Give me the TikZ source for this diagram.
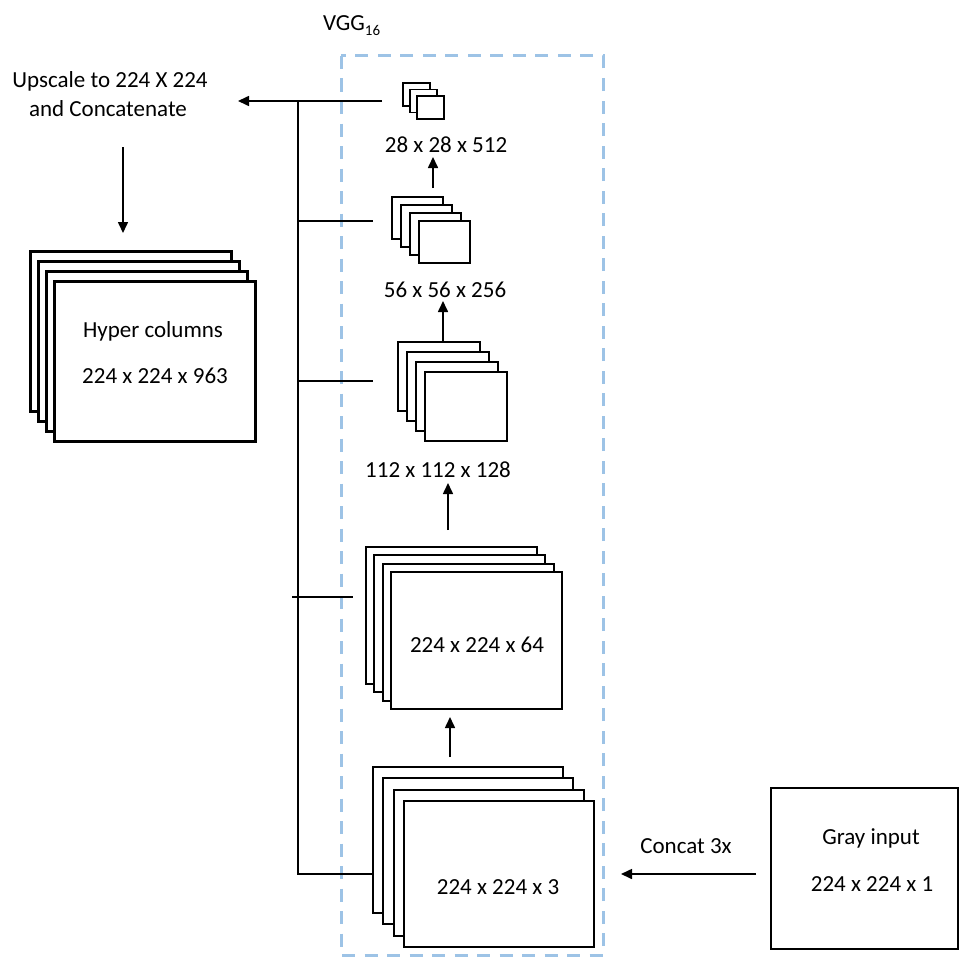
\documentclass[tikz,border=0pt]{standalone}
\usepackage{fontspec}
\setmainfont{Carlito}
\usetikzlibrary{arrows.meta,calc}
\definecolor{vggblue}{RGB}{157,195,230}
\tikzset{
  sheet/.style={draw=black, fill=white, rectangle, inner sep=0pt, outer sep=0pt, anchor=north west},
  lbl/.style={inner sep=0pt, anchor=base, font=\fontsize{23}{28}\selectfont},
  conn/.style={draw=black, line width=1.6pt},
  arr/.style={conn, -{Triangle[length=11pt,width=10pt]}},
  vggbox/.style={draw=vggblue, line width=3pt, dash pattern=on 13pt off 9.5pt}
}
% a stack of feature maps: name, x, y (back sheet, top left), width, height, dx, dy, count, line width
\newcommand{\featstack}[9]{%
  \foreach \k in {1,...,#8}{%
    \node[sheet, line width=#9, minimum width=#4pt, minimum height=#5pt]
      (#1-\k) at ({#2+(\k-1)*#6},{#3+(\k-1)*#7}) {};
  }%
}
\begin{document}
\begin{tikzpicture}[x=1pt,y=-1pt]
\useasboundingbox (0,0) rectangle (961,958);

% VGG16 frame
\draw[vggbox] (341,56) rectangle (603,955);
\node[inner sep=0pt, anchor=base west, font=\fontsize{23}{28}\selectfont] (vgg) at (323,31)
  {VGG\raisebox{-5pt}{\fontsize{15}{15}\selectfont 16}};

% feature map stacks
\featstack{s1}{403}{83}{27}{23}{7}{6.5}{3}{1.6pt}
\featstack{s2}{392}{197}{51}{42}{9}{8}{4}{1.6pt}
\featstack{s3}{398}{342}{82}{69}{9}{10}{4}{1.6pt}
\featstack{s4}{366}{547}{171}{137}{8.3}{8.3}{4}{2pt}
\featstack{s5}{373}{767}{190}{146}{10.3}{11.3}{4}{2pt}
\featstack{hc}{30}{251}{201}{160}{8.3}{10.3}{4}{3pt}

% gray input
\node[sheet, line width=2.6pt, minimum width=187pt, minimum height=161pt] (gray) at (771,788) {};

% labels
\node[lbl] (l512) at (446,152) {28 x 28 x 512};
\node[lbl] (l256) at (445,297) {56 x 56 x 256};
\node[lbl] (l128) at (438,477) {112 x 112 x 128};
\node[lbl] (l64)  at (477,652) {224 x 224 x 64};
\node[lbl] (l3)   at (498,894) {224 x 224 x 3};
\node[lbl] (gt)   at (871,844) {Gray input};
\node[lbl] (g1)   at (872,891) {224 x 224 x 1};
\node[lbl] (cat)  at (686,853) {Concat 3x};
\node[lbl] (hct)  at (153,337) {Hyper columns};
\node[lbl] (h963) at (155,383) {224 x 224 x 963};
\node[lbl] (up1)  at (110,88)  {Upscale to 224 X 224};
\node[lbl] (up2)  at (108,116) {and Concatenate};

% bus collecting the stages
\coordinate (btop) at (298,101);
\coordinate (bbot) at (298,874);
\coordinate (s1out) at (382,101);
\coordinate (uptip) at (238,101);
\draw[arr] (s1out) -- (uptip);
\draw[conn] (btop) -- (bbot) -- (s5-1.north west |- bbot);
\coordinate (t2) at (373,221);
\coordinate (t3) at (373,381);
\coordinate (t4a) at (292,597);
\coordinate (t4b) at (353,597);
\draw[conn] (btop |- t2) -- (t2);
\draw[conn] (btop |- t3) -- (t3);
\draw[conn] (t4a) -- (t4b);

% forward path
\coordinate (a1s) at (433,188); \coordinate (a1e) at (433,157);
\coordinate (a2s) at (443,342); \coordinate (a2e) at (443,301);
\coordinate (a3s) at (448,530); \coordinate (a3e) at (448,483);
\coordinate (a4s) at (450,757); \coordinate (a4e) at (450,717);
\draw[arr] (a1s) -- (a1e);
\draw[arr] (a2s) -- (a2e);
\draw[arr] (a3s) -- (a3e);
\draw[arr] (a4s) -- (a4e);

% input and output arrows
\coordinate (cs) at (756,874); \coordinate (ce) at (621,874);
\draw[arr] (cs) -- (ce);
\coordinate (ds) at (123,147); \coordinate (de) at (123,233);
\draw[arr] (ds) -- (de);
\end{tikzpicture}
\end{document}
